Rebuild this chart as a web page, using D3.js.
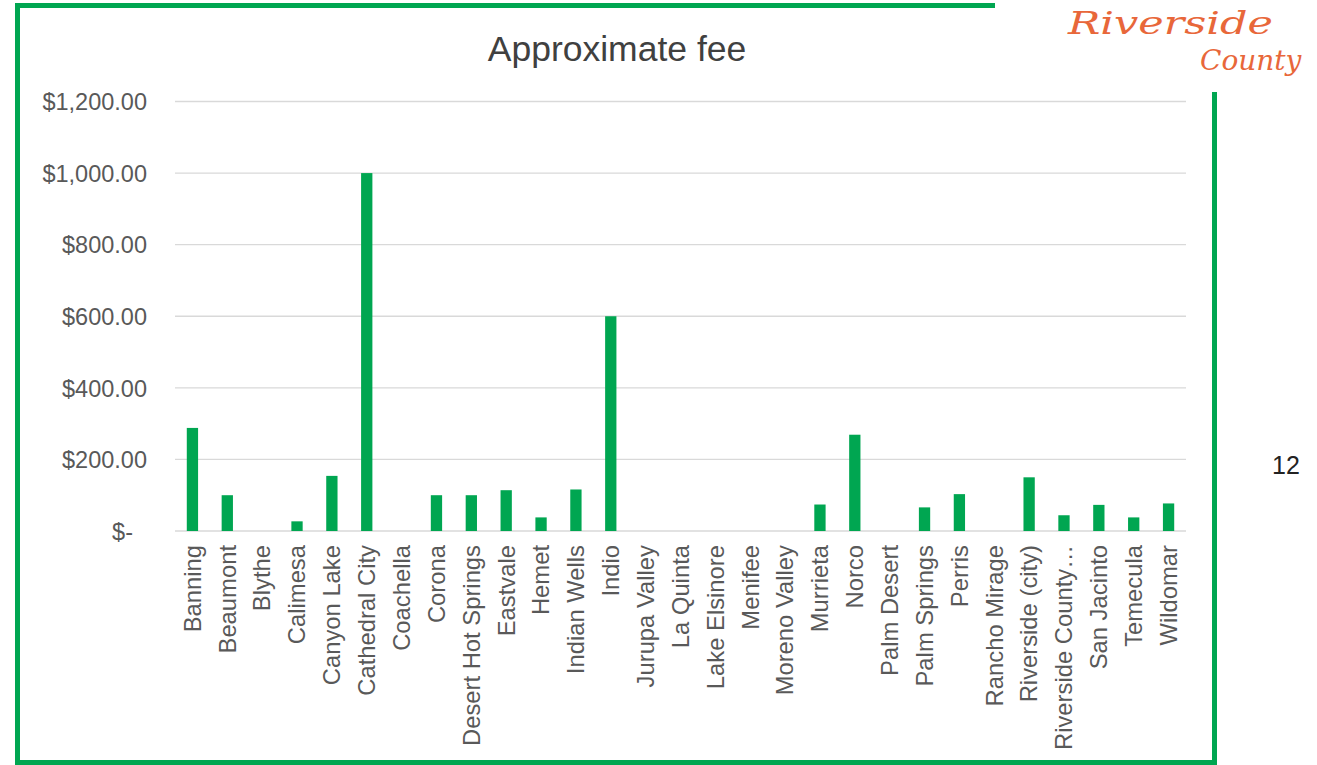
<!DOCTYPE html>
<html>
<head>
<meta charset="utf-8">
<script src="https://cdn.jsdelivr.net/npm/d3@7"></script>
<style>
  html, body { margin: 0; padding: 0; background: #fff; }
  svg { display: block; }
</style>
</head>
<body>
<svg id="chart" width="1317" height="765"></svg>
<script>
const categories = ["Banning","Beaumont","Blythe","Calimesa","Canyon Lake","Cathedral City","Coachella","Corona","Desert Hot Springs","Eastvale","Hemet","Indian Wells","Indio","Jurupa Valley","La Quinta","Lake Elsinore","Menifee","Moreno Valley","Murrieta","Norco","Palm Desert","Palm Springs","Perris","Rancho Mirage","Riverside (city)","Riverside County…","San Jacinto","Temecula","Wildomar"];
const fees = [288,100,0,27,154,1000,0,100,100,114,38,116,600,0,0,0,0,0,74,269,0,66,103,0,150,44,73,38,77];
const yTicks = [0,200,400,600,800,1000,1200];
const yTickLabels = ["$-","$200.00","$400.00","$600.00","$800.00","$1,000.00","$1,200.00"];
const title = "Approximate fee";
const pageNumber = "12";

const svg = d3.select("#chart");
const green = "#00A651";
const font = "'Liberation Sans', Arial, sans-serif";

// slide frame
const frame = svg.append("g").attr("fill", green);
frame.append("rect").attr("x", 15).attr("y", 3).attr("width", 980).attr("height", 5);
frame.append("rect").attr("x", 15).attr("y", 3).attr("width", 5).attr("height", 762);
frame.append("rect").attr("x", 1212).attr("y", 92).attr("width", 5).attr("height", 673);
frame.append("rect").attr("x", 15).attr("y", 760).attr("width", 1202).attr("height", 5);

// logo
svg.append("text").attr("x", 1068).attr("y", 34)
  .attr("font-family", "'DejaVu Serif', serif").attr("font-style", "italic")
  .attr("font-size", 32).attr("fill", "#E8673A")
  .attr("textLength", 205).attr("lengthAdjust", "spacingAndGlyphs").text("Riverside");
svg.append("text").attr("x", 1200).attr("y", 70)
  .attr("font-family", "'DejaVu Serif', serif").attr("font-style", "italic")
  .attr("font-size", 28).attr("fill", "#E8673A").text("County");

// page number
svg.append("text").attr("x", 1272).attr("y", 474)
  .attr("font-family", font).attr("font-size", 25).attr("fill", "#222").text(pageNumber);

// title
svg.append("text").attr("x", 617).attr("y", 61)
  .attr("text-anchor", "middle").attr("font-family", font)
  .attr("font-size", 35.5).attr("fill", "#404040").text(title);

const x = d3.scaleBand().domain(categories).range([175, 1186]).paddingInner(0.676).paddingOuter(0.338);
const y = d3.scaleLinear().domain([0, 1200]).range([531, 101.5]);

// gridlines
svg.append("g").selectAll("line").data(yTicks).join("line")
  .attr("x1", 175).attr("x2", 1186)
  .attr("y1", d => y(d)).attr("y2", d => y(d))
  .attr("stroke", "#d9d9d9").attr("stroke-width", 1.4);

// y axis labels
const yAxis = d3.axisLeft(y).tickValues(yTicks)
  .tickFormat((d, i) => yTickLabels[i]).tickSize(0).tickPadding(0);
const gy = svg.append("g").attr("transform", "translate(147,0)").call(yAxis);
gy.select(".domain").remove();
gy.selectAll("text").attr("font-family", font).attr("font-size", 23.5).attr("fill", "#595959")
  .attr("dy", "0.35em")
  .attr("x", d => d === 0 ? -14 : 0);

// bars
svg.append("g").selectAll("rect").data(fees).join("rect")
  .attr("x", (d, i) => x(categories[i]))
  .attr("width", x.bandwidth())
  .attr("y", d => y(d))
  .attr("height", d => y(0) - y(d))
  .attr("fill", green);

// x axis labels
const xAxis = d3.axisBottom(x).tickSize(0).tickPadding(0);
const gx = svg.append("g").attr("transform", "translate(0,545)").call(xAxis);
gx.select(".domain").remove();
gx.selectAll("text")
  .attr("font-family", font).attr("font-size", 23.8).attr("fill", "#595959")
  .attr("transform", "rotate(-90)")
  .attr("text-anchor", "end")
  .attr("x", 0).attr("y", 0).attr("dy", "0.35em");
</script>
</body>
</html>
